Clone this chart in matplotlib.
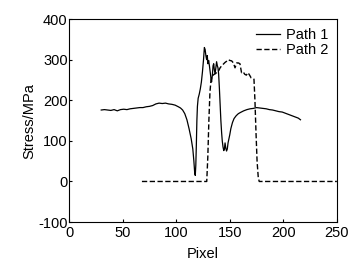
import matplotlib
matplotlib.use('Agg')
import matplotlib.pyplot as plt

# data to plot
path1_x = [30, 33, 36, 39, 42, 45, 48, 51, 54, 57, 60, 63, 66, 69, 72, 75, 78, 81, 84, 87,
           90, 93, 96, 99, 102, 104, 106, 108, 110, 112, 114, 115.5, 116.5, 117.3, 117.8,
           118.3, 118.8, 119.3, 119.8, 120.5, 121.5, 122.5, 123.5, 124.5, 125.5, 126.3,
           127, 127.7, 128.4, 129, 129.6, 130.3, 131, 131.7, 132.4, 133, 133.7, 134.4,
           135, 135.6, 136.3, 137, 137.7, 138.4, 139, 139.6, 140.3, 141, 141.7, 142.4,
           143, 143.7, 144.4, 145, 145.6, 146.3, 147, 147.7, 148.4, 149.2, 150, 151,
           152.5, 154, 156, 158, 160, 163, 166, 169, 172, 175, 178, 181, 184, 187, 190,
           193, 196, 199, 202, 205, 208, 211, 214, 216]
path1_y = [176, 177, 176, 175, 177, 174, 177, 178, 177, 179, 180, 181, 182, 182, 184, 185,
           187, 191, 193, 192, 193, 191, 190, 188, 184, 181, 176, 167, 152, 130, 105, 80,
           50, 20, 15, 40, 90, 150, 185, 205, 215, 228, 245, 270, 300, 330, 325, 310,
           300, 310, 290, 298, 285, 270, 255, 245, 260, 285, 290, 275, 265, 280, 295,
           285, 280, 265, 230, 190, 150, 120, 100, 85, 76, 80, 95, 82, 75, 80, 95, 105,
           115, 130, 145, 155, 162, 167, 170, 174, 177, 179, 180, 182, 181, 180, 179,
           177, 176, 174, 172, 171, 168, 165, 162, 159, 156, 152]

path2_x = [68, 128.5, 129.5, 130.5, 131.5, 132.5, 133.5, 134.5, 136, 137.8, 139.5, 141,
           142.5, 144, 145.5, 147, 148.6, 150.2, 151.8, 153.4, 154.9, 156.5, 158, 159.5,
           161, 162.5, 164, 165.5, 167, 168.5, 170, 171.5, 172.6, 173.5, 174.5, 175.5,
           176.6, 177.5, 250]
path2_y = [0, 0, 60, 150, 220, 250, 260, 262, 265, 268, 272, 280, 285, 289, 293, 296,
           300, 298, 297, 292, 280, 292, 292, 290, 268, 270, 264, 262, 268, 262, 255,
           254, 252, 200, 120, 50, 10, 0, 0]

plt.rcParams['font.family'] = ['Liberation Sans', 'DejaVu Sans']
plt.rcParams['font.size'] = 10.5
plt.rcParams['axes.unicode_minus'] = False

fig = plt.figure(figsize=(3.58, 2.65), dpi=100)
ax = fig.add_axes([0.193, 0.162, 0.748, 0.766])

ax.plot(path1_x, path1_y, color='black', linewidth=0.9, label='Path 1')
ax.plot(path2_x, path2_y, color='black', linewidth=1.0,
        linestyle=(0, (3.8, 1.8)), label='Path 2')

ax.set_xlim(0, 250)
ax.set_ylim(-100, 400)
ax.set_xticks([0, 50, 100, 150, 200, 250])
ax.set_yticks([-100, 0, 100, 200, 300, 400])
ax.tick_params(direction='in', length=2.5, width=0.8)
ax.tick_params(axis='y', pad=1)
ax.tick_params(axis='x', pad=2.5)
for s in ax.spines.values():
    s.set_linewidth(0.8)

ax.set_xlabel('Pixel', labelpad=5.5)
ax.set_ylabel('Stress/MPa', labelpad=1)

ax.legend(loc='upper right', frameon=False, handlelength=1.65,
          handletextpad=0.4, labelspacing=0.1, borderaxespad=0.2,
          borderpad=0.4)

fig.savefig('out.png', dpi=100)
